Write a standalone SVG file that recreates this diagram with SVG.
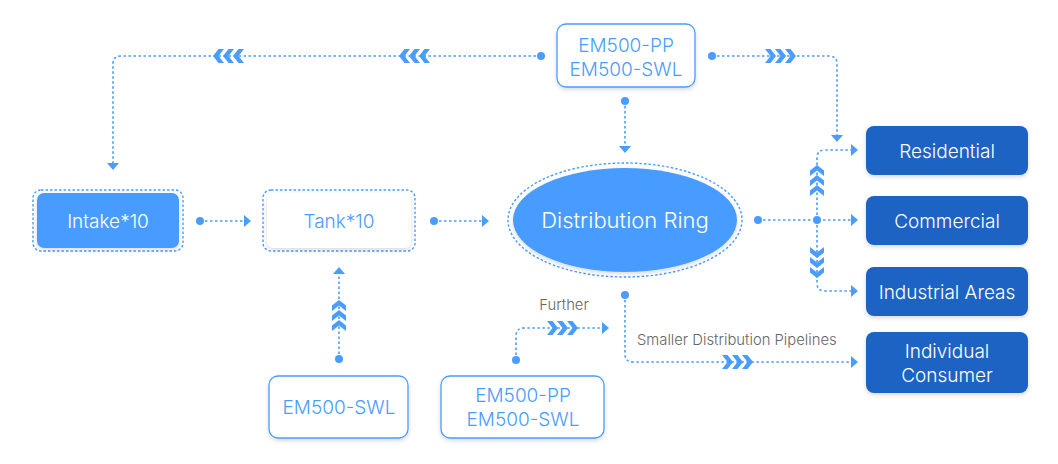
<svg xmlns="http://www.w3.org/2000/svg" width="1058" height="464" viewBox="0 0 1058 464">
<defs>
<style>
.ln{fill:none;stroke:#4a9cff;stroke-width:1.6;stroke-dasharray:2.5 2.5}
.dot{fill:#4a9cff}
.ar{fill:#4a9cff}
.ch{fill:#4a9cff}
.t{font-family:Inter,"Noto Sans",sans-serif;text-anchor:middle;font-weight:300}
.wt{fill:#ffffff;font-size:19px}
.bt{fill:#4a9cff;font-size:19px}
.gt{fill:#666666;font-size:14.8px;font-weight:300;font-family:Inter,"Noto Sans",sans-serif}
.dk{fill:#1c64c4}
.ob{fill:#ffffff;stroke:#4a9cff;stroke-width:1.3}
.dash{fill:none;stroke:#4a9cff;stroke-width:1.4;stroke-dasharray:2.5 2}
</style>
<filter id="sh" x="-10%" y="-10%" width="120%" height="130%">
<feDropShadow dx="0" dy="2" stdDeviation="2" flood-color="#000" flood-opacity="0.15"/>
</filter>
<g id="chevR">
<path d="M-15,-7 h5.5 l5.5,7 l-5.5,7 h-5.5 l5.5,-7 z"/>
<path d="M-5,-7 h5.5 l5.5,7 l-5.5,7 h-5.5 l5.5,-7 z"/>
<path d="M5,-7 h5.5 l5.5,7 l-5.5,7 h-5.5 l5.5,-7 z"/>
</g>
</defs>

<g id="connectors">
<path class="ln" d="M541,56 H121 Q113,56 113,64 V163"/>
<circle class="dot" cx="541" cy="56" r="4"/>
<path class="ar" d="M107,163 h12 l-6,7 z"/>
<g class="ch" transform="translate(229,56) rotate(180)"><use href="#chevR"/></g>
<g class="ch" transform="translate(415,56) rotate(180)"><use href="#chevR"/></g>
<path class="ln" d="M712,56 H829 Q837,56 837,64 V135"/>
<circle class="dot" cx="712" cy="56" r="4"/>
<path class="ar" d="M831,135 h12 l-6,7 z"/>
<g class="ch" transform="translate(780,56)"><use href="#chevR"/></g>
<path class="ln" d="M625,101 V146"/>
<circle class="dot" cx="625" cy="101" r="4"/>
<path class="ar" d="M619,146 h12 l-6,7 z"/>
<path class="ln" d="M200,221 H244"/>
<circle class="dot" cx="200" cy="221" r="4"/>
<path class="ar" d="M244,215 v12 l7,-6 z"/>
<path class="ln" d="M434,221 H482"/>
<circle class="dot" cx="434" cy="221" r="4"/>
<path class="ar" d="M482,215 v12 l7,-6 z"/>
<path class="ln" d="M758,220 H851"/>
<circle class="dot" cx="758" cy="220" r="4"/>
<circle class="dot" cx="817" cy="220" r="4"/>
<path class="ar" d="M851,214 v12 l7,-6 z"/>
<path class="ln" d="M817,220 V158 Q817,150 825,150 H851"/>
<path class="ar" d="M851,144 v12 l7,-6 z"/>
<path class="ln" d="M817,220 V283 Q817,291 825,291 H851"/>
<path class="ar" d="M851,285 v12 l7,-6 z"/>
<g class="ch" transform="translate(817,181) rotate(-90)"><use href="#chevR"/></g>
<g class="ch" transform="translate(817,262) rotate(90)"><use href="#chevR"/></g>
<path class="ln" d="M339,359 V274"/>
<circle class="dot" cx="339" cy="359" r="4"/>
<path class="ar" d="M333,274 h12 l-6,-7 z"/>
<g class="ch" transform="translate(339,316) rotate(-90)"><use href="#chevR"/></g>
<path class="ln" d="M516,360 V336 Q516,328 524,328 H602"/>
<circle class="dot" cx="516" cy="360" r="4"/>
<path class="ar" d="M602,322 v12 l7,-6 z"/>
<g class="ch" transform="translate(562,328)"><use href="#chevR"/></g>
<text class="gt" x="564" y="310" text-anchor="middle">Further</text>
<path class="ln" d="M625,295 V354 Q625,362 633,362 H851"/>
<circle class="dot" cx="625" cy="295" r="4"/>
<path class="ar" d="M851,356 v12 l7,-6 z"/>
<g class="ch" transform="translate(737,362)"><use href="#chevR"/></g>
<text class="gt" x="637" y="345">Smaller Distribution Pipelines</text>
</g>

<g id="node-top">
<rect class="ob" x="557" y="24" width="138" height="63" rx="9" filter="url(#sh)"/>
<text class="t bt" x="626" y="52">EM500-PP</text>
<text class="t bt" x="626" y="76">EM500-SWL</text>
</g>

<g id="node-intake">
<rect class="dash" x="33" y="190" width="150" height="61" rx="8"/>
<rect x="37" y="193" width="142" height="55" rx="7" fill="#4a9cff" filter="url(#sh)"/>
<text class="t wt" x="108" y="228">Intake*10</text>
</g>

<g id="node-tank">
<rect class="dash" x="263" y="190" width="152" height="61" rx="8"/>
<rect x="267" y="193" width="144" height="55" rx="7" fill="#ffffff" filter="url(#sh)"/>
<text class="t bt" x="339" y="228">Tank*10</text>
</g>

<g id="node-ring">
<ellipse class="dash" cx="625" cy="220" rx="117" ry="57"/>
<ellipse cx="625" cy="220" rx="112" ry="52" fill="#4a9cff" filter="url(#sh)"/>
<text class="t" x="625" y="228" fill="#ffffff" font-size="22">Distribution Ring</text>
</g>

<g id="node-residential">
<rect class="dk" x="866" y="126" width="162" height="49" rx="8" filter="url(#sh)"/>
<text class="t wt" x="947" y="158">Residential</text>
</g>
<g id="node-commercial">
<rect class="dk" x="866" y="196" width="162" height="49" rx="8" filter="url(#sh)"/>
<text class="t wt" x="947" y="228">Commercial</text>
</g>
<g id="node-industrial">
<rect class="dk" x="866" y="267" width="162" height="49" rx="8" filter="url(#sh)"/>
<text class="t wt" x="947" y="299">Industrial Areas</text>
</g>
<g id="node-individual">
<rect class="dk" x="866" y="332" width="162" height="61" rx="8" filter="url(#sh)"/>
<text class="t wt" x="947" y="358">Individual</text>
<text class="t wt" x="947" y="382">Consumer</text>
</g>

<g id="node-swl">
<rect class="ob" x="269" y="376" width="139" height="62" rx="9" filter="url(#sh)"/>
<text class="t bt" x="339" y="414">EM500-SWL</text>
</g>
<g id="node-pp-swl">
<rect class="ob" x="441" y="376" width="163" height="62" rx="9" filter="url(#sh)"/>
<text class="t bt" x="523" y="402">EM500-PP</text>
<text class="t bt" x="523" y="426">EM500-SWL</text>
</g>
</svg>
